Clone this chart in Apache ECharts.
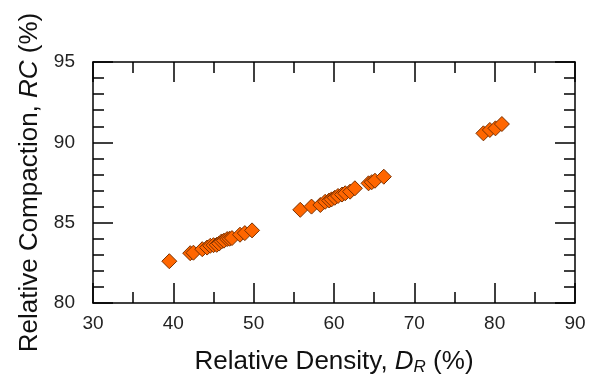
<!DOCTYPE html>
<html>
<head>
<meta charset="utf-8">
<script src="https://cdn.jsdelivr.net/npm/echarts@6/dist/echarts.min.js"></script>
<style>html,body{margin:0;padding:0;background:#fff}#c{width:597px;height:381px}</style>
</head>
<body>
<div id="c"></div>
<script>
var relDensity = [39.5,
  42.1, 42.5, 43.6, 44.2, 44.6, 45.0, 45.4, 45.7, 46.0, 46.3, 46.7, 47.0, 47.3, 48.3, 48.9, 49.8,
  55.8, 57.2, 58.3, 58.9, 59.4, 59.7, 60.1, 60.5, 61.0, 61.4, 62.0, 62.6, 64.3, 64.7, 65.1, 66.2,
  78.6, 79.4, 80.1, 80.9];
var relCompaction = [82.6,
  83.1, 83.13, 83.35, 83.45, 83.56, 83.6, 83.62, 83.7, 83.83, 83.88, 83.98, 84.0, 84.04, 84.25, 84.35, 84.52,
  85.8, 86.0, 86.1, 86.3, 86.38, 86.45, 86.55, 86.66, 86.75, 86.83, 86.93, 87.14, 87.45, 87.52, 87.61, 87.86,
  90.56, 90.77, 90.87, 91.14];
var xTicks = [30, 40, 50, 60, 70, 80, 90];
var yTicks = [80, 85, 90, 95];

var pts = relDensity.map(function (x, i) { return [x, relCompaction[i]]; });
var font = '"Liberation Sans", Arial, sans-serif';
var lineStyle = { color: '#000', width: 1.5 };

function xAx(pos, show) {
  return {
    type: 'value', position: pos, min: xTicks[0], max: xTicks[xTicks.length - 1], interval: 10,
    axisLine: { show: true, onZero: false, lineStyle: lineStyle },
    axisTick: { show: true, inside: true, length: 20, lineStyle: lineStyle },
    minorTick: { show: true, splitNumber: 2, length: 11, lineStyle: lineStyle },
    splitLine: { show: false },
    axisLabel: { show: show, color: '#222', fontSize: 19, fontFamily: font, margin: 11 },
    name: show ? 'Relative Density, {i|D}{sub|R} (%)' : '',
    nameLocation: 'middle', nameGap: 44,
    nameTextStyle: {
      color: '#111', fontSize: 26, fontFamily: font,
      rich: {
        i: { fontStyle: 'italic', fontSize: 26, fontFamily: font, color: '#111' },
        sub: { fontStyle: 'italic', fontSize: 17, fontFamily: font, color: '#111', verticalAlign: 'bottom', padding: [12, 0, 0, 0] }
      }
    }
  };
}
function yAx(pos, show) {
  return {
    type: 'value', position: pos, min: yTicks[0], max: yTicks[yTicks.length - 1], interval: 5,
    axisLine: { show: true, onZero: false, lineStyle: lineStyle },
    axisTick: { show: true, inside: true, length: 20, lineStyle: lineStyle },
    minorTick: { show: true, splitNumber: 5, length: 11, lineStyle: lineStyle },
    splitLine: { show: false },
    axisLabel: { show: show, color: '#222', fontSize: 19, fontFamily: font, margin: 18 },
    name: show ? 'Relative Compaction, {i|RC} (%)' : '',
    nameLocation: 'middle', nameGap: 50,
    nameTextStyle: {
      color: '#111', fontSize: 26, fontFamily: font,
      rich: { i: { fontStyle: 'italic', fontSize: 26, fontFamily: font, color: '#111' } }
    }
  };
}

var chart = echarts.init(document.getElementById('c'), null, { renderer: 'canvas' });
chart.setOption({
  animation: false,
  backgroundColor: '#fff',
  grid: { left: 93, right: 22, top: 62, bottom: 78, containLabel: false, outerBoundsMode: 'none' },
  xAxis: [xAx('bottom', true), xAx('top', false)],
  yAxis: [yAx('left', true), yAx('right', false)],
  series: [{
    type: 'scatter', xAxisIndex: 0, yAxisIndex: 0,
    data: pts, symbol: 'diamond', symbolSize: 15,
    itemStyle: { color: '#FF6600', borderColor: '#7a3100', borderWidth: 1, opacity: 1 }
  }]
});
</script>
</body>
</html>
